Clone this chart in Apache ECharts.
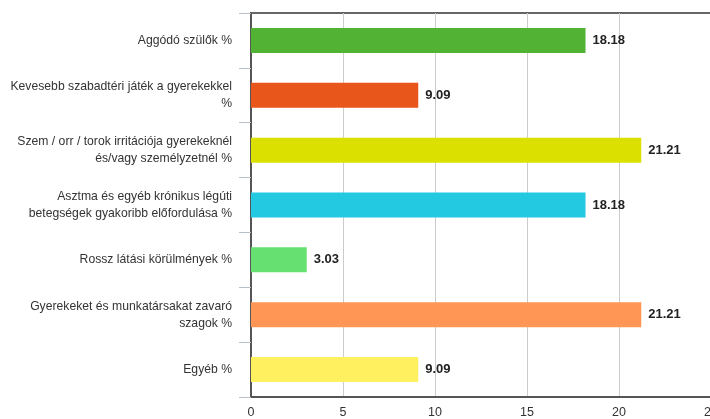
<!DOCTYPE html>
<html>
<head>
<meta charset="utf-8">
<script src="https://cdn.jsdelivr.net/npm/echarts@6/dist/echarts.min.js"></script>
<style>html,body{margin:0;padding:0;background:#fff;}#c{width:710px;height:419px;}</style>
</head>
<body>
<div id="c"></div>
<script>
const categories = [
  "Aggódó szülők %",
  "Kevesebb szabadtéri játék a gyerekekkel\n%",
  "Szem / orr / torok irritációja gyerekeknél\nés/vagy személyzetnél %",
  "Asztma és egyéb krónikus légúti\nbetegségek gyakoribb előfordulása %",
  "Rossz látási körülmények %",
  "Gyerekeket és munkatársakat zavaró\nszagok %",
  "Egyéb %"
];
const values = [18.18, 9.09, 21.21, 18.18, 3.03, 21.21, 9.09];
const colors = ["#52b233", "#e9561b", "#dbe000", "#23c9e1", "#66e070", "#ff9655", "#fff060"];
const xTicks = [0, 5, 10, 15, 20, 25];

const chart = echarts.init(document.getElementById('c'));
chart.setOption({
  animation: false,
  textStyle: { fontFamily: "Liberation Sans, Arial, sans-serif" },
  grid: { left: 251, top: 13, width: 460, height: 384, show: true, borderColor: '#666', borderWidth: 2, backgroundColor: 'transparent', outerBoundsMode: 'none', containLabel: false },
  xAxis: {
    type: 'value', min: xTicks[0], max: xTicks[xTicks.length - 1], interval: 5,
    axisLine: { show: true, lineStyle: { color: '#555', width: 2 } },
    axisTick: { show: false },
    splitLine: { show: true, lineStyle: { color: '#ccc', width: 1 } },
    axisLabel: { color: '#333', fontSize: 12.5, margin: 9 }
  },
  yAxis: {
    type: 'category', data: categories, inverse: true,
    axisLine: { show: true, lineStyle: { color: '#555', width: 2 } },
    axisTick: { show: true, length: 12, lineStyle: { color: '#b8c0cc' } },
    axisLabel: { color: '#333', fontSize: 12.2, margin: 19, lineHeight: 17, align: 'right' }
  },
  series: [{
    type: 'bar', barWidth: 25,
    data: values.map((v, i) => ({ value: v, itemStyle: { color: colors[i] } })),
    label: { show: true, position: 'right', distance: 7, fontWeight: 'bold', fontSize: 13, color: '#222', formatter: p => p.value.toFixed(2) }
  }]
});
</script>
</body>
</html>
